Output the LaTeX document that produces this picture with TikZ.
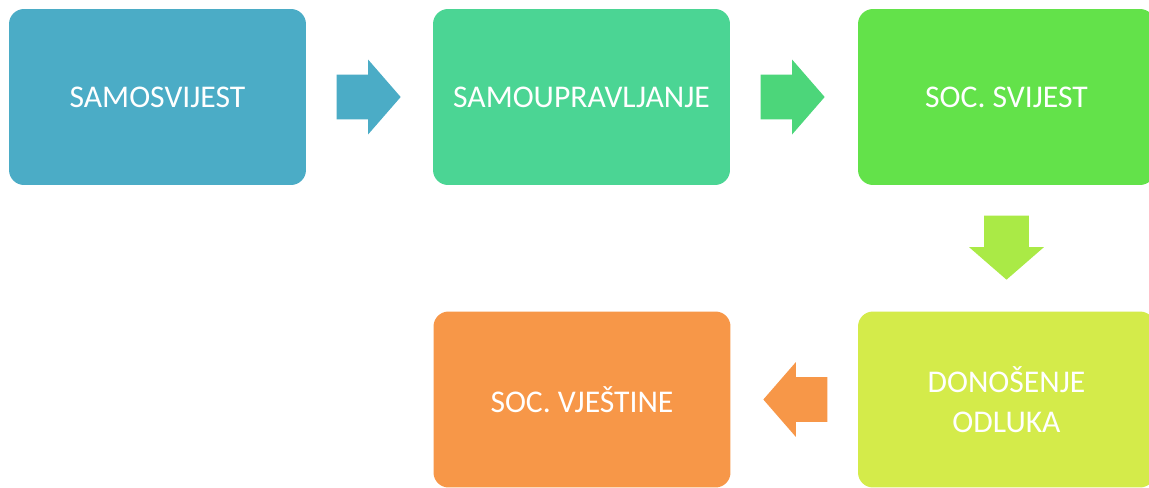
\documentclass[tikz,border=0pt]{standalone}
\usepackage{fontspec}
\setmainfont{Carlito}
\usetikzlibrary{shapes.arrows}
\definecolor{cBlue}{HTML}{4BACC6}
\definecolor{cTeal}{HTML}{4BD594}
\definecolor{cTealArr}{HTML}{4CD67A}
\definecolor{cGreen}{HTML}{63E24A}
\definecolor{cLime}{HTML}{AAEA46}
\definecolor{cYellow}{HTML}{D4EB4A}
\definecolor{cOrange}{HTML}{F79748}
\tikzset{
  stage/.style={rounded corners=0.3cm, minimum width=5.94cm, minimum height=3.52cm,
    inner sep=0pt, text=white, align=center, font=\fontsize{18}{23}\selectfont},
  blockarrow/.style={single arrow, inner xsep=0pt, inner ysep=0.44cm, minimum height=1.28cm,
    single arrow head extend=0.3cm, single arrow tip angle=98, anchor=tail}
}
\begin{document}
\begin{tikzpicture}[x=0.02cm,y=-0.02cm]
      \fill[white] (0,0) rectangle (1149,487);
      \clip (0,0) rectangle (1149,487);
      \draw
        (157.5,97) node[stage, fill=cBlue] (samo){SAMOSVIJEST}
        (581.5,97) node[stage, fill=cTeal] (uprav){SAMOUPRAVLJANJE}
        (1006.5,97) node[stage, fill=cGreen] (svijest){SOC. SVIJEST}
        (1006.5,399.5) node[stage, fill=cYellow] (odluka){DONOŠENJE\\ODLUKA}
        (582,399.5) node[stage, fill=cOrange] (vjestine){SOC. VJEŠTINE};
      \begin{scope}[every node/.style={blockarrow}]
        \node[fill=cBlue] (a1) at ([xshift=0.6cm]samo.east) {};
        \node[fill=cTealArr] (a2) at ([xshift=0.6cm]uprav.east) {};
        \node[fill=cLime, rotate=-90] (a3) at ([yshift=-0.6cm]svijest.south) {};
        \node[fill=cOrange, rotate=180] (a4) at ([xshift=-0.6cm]odluka.west) {};
      \end{scope}
    \end{tikzpicture}
\end{document}
